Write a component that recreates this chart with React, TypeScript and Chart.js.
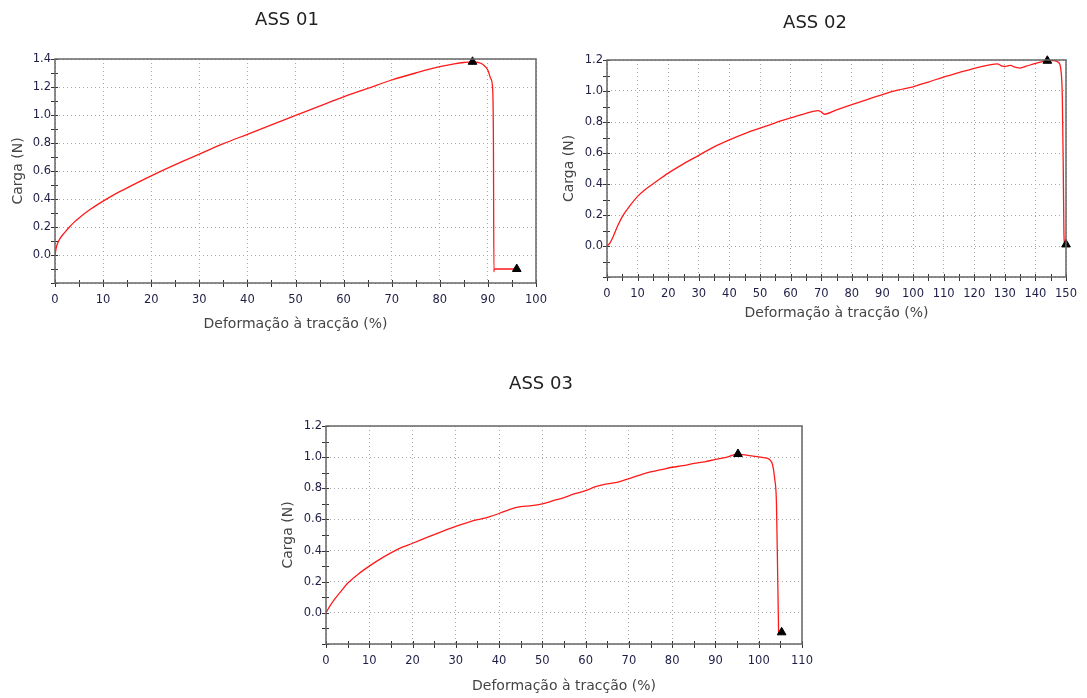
import React, { useEffect, useRef } from 'react';
import { Chart, registerables } from 'chart.js';
Chart.register(...registerables);

// ---- ASS 01 ----
const ass01Strain = [0, 0.25, 0.5, 1, 2, 3, 4, 5, 7.5, 10, 12.5, 15, 20, 25, 30, 35, 40, 45, 50, 55, 60, 65, 70, 75, 80, 83, 85, 86.8, 88, 89, 90, 90.6, 91, 91.15, 91.25, 91.3, 96];
const ass01Load = [0, 0.05, 0.08, 0.115, 0.16, 0.2, 0.235, 0.265, 0.33, 0.385, 0.435, 0.48, 0.565, 0.645, 0.72, 0.795, 0.862, 0.93, 0.997, 1.064, 1.13, 1.19, 1.25, 1.3, 1.345, 1.365, 1.375, 1.38, 1.375, 1.36, 1.32, 1.26, 1.18, 0.8, -0.12, -0.1, -0.1];
const ass01MarkStrain = [86.8, 96];
const ass01MarkLoad = [1.38, -0.1];

// ---- ASS 02 ----
const ass02Strain = [0, 1, 2, 3.5, 5, 7.5, 10, 12.5, 15, 20, 25, 30, 35, 40, 45, 50, 55, 60, 65, 69, 70, 71, 75, 80, 85, 90, 95, 100, 105, 110, 115, 120, 125, 127.5, 129, 130, 131, 132, 133, 135, 137, 140, 142, 144, 146, 147.5, 148.3, 148.8, 149.1, 149.3, 149.5];
const ass02Load = [0, 0.02, 0.06, 0.13, 0.19, 0.26, 0.32, 0.365, 0.4, 0.47, 0.53, 0.585, 0.64, 0.685, 0.725, 0.76, 0.795, 0.826, 0.855, 0.873, 0.865, 0.85, 0.878, 0.912, 0.945, 0.977, 1.005, 1.027, 1.058, 1.09, 1.118, 1.146, 1.168, 1.175, 1.162, 1.158, 1.162, 1.165, 1.155, 1.148, 1.16, 1.178, 1.188, 1.196, 1.196, 1.185, 1.14, 0.95, 0.5, 0.1, 0.01];
const ass02MarkStrain = [143.9, 150];
const ass02MarkLoad = [1.195, 0.01];

// ---- ASS 03 ----
const ass03Strain = [0, 0.5, 1, 2, 3.5, 5, 7.5, 10, 12.5, 15, 17.5, 20, 22.5, 25, 27.5, 30, 32.5, 35, 37.5, 40, 42.5, 45, 47.5, 50, 52.5, 55, 57.5, 60, 62.5, 65, 67.5, 70, 72.5, 75, 77.5, 80, 82.5, 85, 87.5, 90, 92.5, 95, 97.5, 100, 101.5, 102.5, 103.2, 103.7, 104.1, 104.4, 104.6];
const ass03Load = [0, 0.025, 0.048, 0.088, 0.14, 0.19, 0.25, 0.3, 0.345, 0.385, 0.42, 0.447, 0.475, 0.503, 0.53, 0.556, 0.578, 0.598, 0.615, 0.638, 0.665, 0.682, 0.688, 0.7, 0.72, 0.74, 0.765, 0.785, 0.812, 0.828, 0.84, 0.862, 0.885, 0.905, 0.92, 0.935, 0.945, 0.96, 0.97, 0.985, 0.998, 1.02, 1.012, 1.002, 0.995, 0.985, 0.95, 0.86, 0.7, 0.2, -0.14];
const ass03MarkStrain = [95.2, 105.3];
const ass03MarkLoad = [1.02, -0.125];

const xTitle = 'Deformação à tracção (%)';
const yTitle = 'Carga (N)';
const FONT = "'DejaVu Sans', Verdana, sans-serif";

const framePlugin = {
  id: 'frame',
  afterDraw(chart: any) {
    const { ctx, chartArea: a, scales } = chart;
    ctx.save();
    ctx.strokeStyle = '#333';
    ctx.lineWidth = 1;
    ctx.beginPath();
    scales.x.ticks.forEach((t: any) => {
      const px = Math.round(scales.x.getPixelForValue(t.value)) + 0.5;
      ctx.moveTo(px, a.bottom - 3);
      ctx.lineTo(px, a.bottom + 4);
    });
    scales.y.ticks.forEach((t: any) => {
      const py = Math.round(scales.y.getPixelForValue(t.value)) + 0.5;
      ctx.moveTo(a.left - 4, py);
      ctx.lineTo(a.left + 3, py);
    });
    ctx.stroke();
    ctx.strokeStyle = '#666';
    ctx.lineWidth = 1.5;
    ctx.strokeRect(Math.round(a.left), Math.round(a.top), Math.round(a.right - a.left), Math.round(a.bottom - a.top));
    ctx.restore();
  },
};

type Cfg = {
  left: number; top: number; width: number; height: number;
  padTop: number; padRight: number; yAxisW: number; yTitlePad: number;
  xAxisH: number; xTitlePad: number; xMax: number; yMax: number;
  title: string; titleX: number; titleY: number;
  strain: number[]; load: number[]; markStrain: number[]; markLoad: number[];
};

function Plot({ cfg }: { cfg: Cfg }) {
  const ref = useRef<HTMLCanvasElement>(null);
  useEffect(() => {
    const data = cfg.strain.map((x, i) => ({ x, y: cfg.load[i] }));
    const marks = cfg.markStrain.map((x, i) => ({ x, y: cfg.markLoad[i] }));
    const isMajorY = (v: number) => Math.abs(Math.round(v * 10)) % 2 === 0;
    const chart = new Chart(ref.current!, {
      type: 'line',
      data: {
        datasets: [
          {
            data: marks,
            showLine: false,
            pointStyle: 'triangle',
            pointRadius: 5,
            pointBackgroundColor: '#000',
            pointBorderColor: '#000',
            clip: false,
          } as any,
          {
            data,
            borderColor: '#ff1a1a',
            borderWidth: 1.3,
            pointRadius: 0,
            cubicInterpolationMode: 'monotone',
            fill: false,
          },
        ],
      },
      options: {
        responsive: false,
        animation: false,
        layout: { padding: { top: cfg.padTop, right: cfg.padRight, left: 0, bottom: 0 } },
        plugins: { legend: { display: false }, tooltip: { enabled: false }, title: { display: false } },
        scales: {
          x: {
            type: 'linear',
            min: 0,
            max: cfg.xMax,
            afterFit: (s: any) => { s.height = cfg.xAxisH; },
            ticks: {
              stepSize: 5,
              autoSkip: false,
              maxRotation: 0,
              padding: 10,
              color: '#1e1e46',
              font: { family: FONT, size: 11.5 },
              callback: (v: any) => (Math.round(v) % 10 === 0 ? String(Math.round(v)) : ''),
            },
            grid: {
              drawTicks: false,
              color: (c: any) => (Math.round(c.tick.value) % 10 === 0 ? '#a8a8a8' : 'rgba(0,0,0,0)'),
              lineWidth: 1,
            },
            border: { display: false, dash: [1, 3] },
            title: { display: true, text: xTitle, color: '#444', font: { family: FONT, size: 14 }, padding: { top: 0, bottom: cfg.xTitlePad } },
          },
          y: {
            type: 'linear',
            min: -0.2,
            max: cfg.yMax,
            afterFit: (s: any) => { s.width = cfg.yAxisW; },
            ticks: {
              stepSize: 0.1,
              autoSkip: false,
              padding: 4,
              color: '#1e1e46',
              font: { family: FONT, size: 11.5 },
              callback: (v: any) => {
                const n = Number(v);
                if (!isMajorY(n) || n < -0.05) return '';
                return Math.abs(n) < 1e-9 ? '0.0' : n.toFixed(1);
              },
            },
            grid: {
              drawTicks: false,
              color: (c: any) => (isMajorY(c.tick.value) ? '#a8a8a8' : 'rgba(0,0,0,0)'),
              lineWidth: 1,
            },
            border: { display: false, dash: [1, 3] },
            title: { display: true, text: yTitle, color: '#444', font: { family: FONT, size: 14 }, padding: { top: cfg.yTitlePad, bottom: 0 } },
          },
        },
      },
      plugins: [framePlugin],
    });
    return () => chart.destroy();
  }, [cfg]);
  return (
    <>
      <canvas ref={ref} width={cfg.width} height={cfg.height}
        style={{ position: 'absolute', left: cfg.left, top: cfg.top, width: cfg.width, height: cfg.height }} />
      <div style={{ position: 'absolute', left: cfg.titleX - 100, top: cfg.titleY - 12, width: 200, height: 24, lineHeight: '24px', textAlign: 'center', fontFamily: FONT, fontSize: 18, color: '#222' }}>{cfg.title}</div>
    </>
  );
}

const cfg1: Cfg = {
  left: 0, top: 0, width: 560, height: 340, padTop: 59, padRight: 24, yAxisW: 55, yTitlePad: 9.6,
  xAxisH: 57, xTitlePad: 7.6, xMax: 100, yMax: 1.4, title: 'ASS 01', titleX: 287, titleY: 19,
  strain: ass01Strain, load: ass01Load, markStrain: ass01MarkStrain, markLoad: ass01MarkLoad,
};
const cfg2: Cfg = {
  left: 560, top: 0, width: 527, height: 340, padTop: 60, padRight: 18, yAxisW: 47, yTitlePad: 1,
  xAxisH: 63, xTitlePad: 18.6, xMax: 150, yMax: 1.2, title: 'ASS 02', titleX: 815, titleY: 22,
  strain: ass02Strain, load: ass02Load, markStrain: ass02MarkStrain, markLoad: ass02MarkLoad,
};
const cfg3: Cfg = {
  left: 270, top: 370, width: 560, height: 328, padTop: 56, padRight: 28, yAxisW: 56, yTitlePad: 9.6,
  xAxisH: 54, xTitlePad: 3.6, xMax: 110, yMax: 1.2, title: 'ASS 03', titleX: 541, titleY: 383,
  strain: ass03Strain, load: ass03Load, markStrain: ass03MarkStrain, markLoad: ass03MarkLoad,
};

export default function App() {
  return (
    <div style={{ position: 'absolute', left: 0, top: 0, width: 1087, height: 698, background: '#fff', overflow: 'hidden' }}>
      <Plot cfg={cfg1} />
      <Plot cfg={cfg2} />
      <Plot cfg={cfg3} />
    </div>
  );
}
